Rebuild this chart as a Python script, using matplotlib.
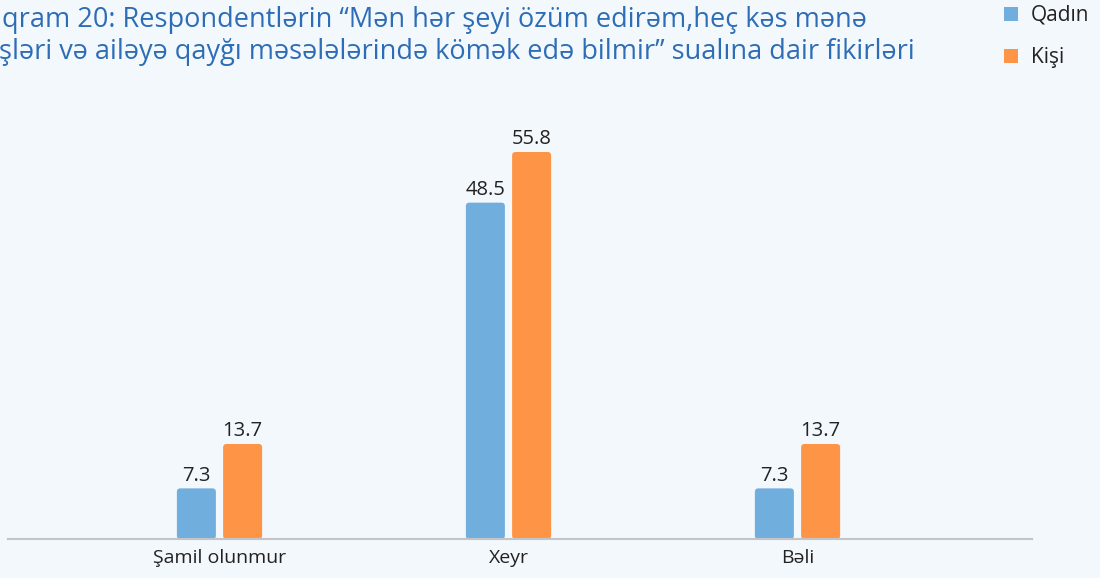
import matplotlib
matplotlib.use("Agg")
import matplotlib.pyplot as plt
from matplotlib.patches import FancyBboxPatch, Patch
import numpy as np

categories = ["Şamil olunmur", "Xeyr", "Bəli"]
qadin = [7.3, 48.5, 7.3]
kisi = [13.7, 55.8, 13.7]
series_names = ["Qadın", "Kişi"]
title_line1 = "qram 20: Respondentlərin “Mən hər şeyi özüm edirəm,heç kəs mənə"
title_line2 = "şləri və ailəyə qayğı məsələlərində kömək edə bilmir” sualına dair fikirləri"

BG = "#f3f8fd"
BLUE = "#70aede"
ORANGE = "#fe9445"
TITLE_C = "#2d6db6"
TEXT_C = "#222222"

plt.rcParams['font.family'] = ['Open Sans', 'DejaVu Sans']

W, H = 1100, 578
fig = plt.figure(figsize=(W / 100, H / 100), dpi=100, facecolor=BG)
ax_left, ax_right, ax_bottom, ax_top = 8, 1032, 539, 100
ax = fig.add_axes([ax_left / W, (H - ax_bottom) / H, (ax_right - ax_left) / W, (ax_bottom - ax_top) / H])
ax.set_facecolor(BG)

x = np.arange(len(categories))
bw = 0.135
off = 0.08
b1 = ax.bar(x - off, qadin, bw, color=BLUE, label=series_names[0])
b2 = ax.bar(x + off, kisi, bw, color=ORANGE, label=series_names[1])

x0 = -(219.5 - ax_left) / 289.0
x1 = (ax_right - 219.5) / 289.0
ax.set_xlim(x0, x1)
ymax = 63.3
ax.set_ylim(0, ymax)

# rounded bars
px_per_x = (ax_right - ax_left) / (x1 - x0)
px_per_y = (ax_bottom - ax_top) / ymax
r = 3.5 / px_per_x
aspect = px_per_x / px_per_y
for cont in (b1, b2):
    for p in cont.patches:
        p.set_visible(False)
        fb = FancyBboxPatch((p.get_x(), p.get_y()), p.get_width(), p.get_height(),
                            boxstyle=f"round,pad=0,rounding_size={r}",
                            mutation_aspect=aspect, facecolor=p.get_facecolor(),
                            edgecolor="none", zorder=2)
        ax.add_patch(fb)

ax.bar_label(b1, labels=[f"{v}" for v in qadin], padding=2, fontsize=14.5, color=TEXT_C)
ax.bar_label(b2, labels=[f"{v}" for v in kisi], padding=2, fontsize=14.5, color=TEXT_C)

for s in ["top", "right", "left"]:
    ax.spines[s].set_visible(False)
ax.spines["bottom"].set_color("#c3c3c8")
ax.spines["bottom"].set_linewidth(1.5)
ax.set_yticks([])
ax.set_xticks(x)
ax.set_xticklabels(categories, fontsize=14, color=TEXT_C)
ax.tick_params(axis="x", length=0, pad=7)

fig.text(2 / W, 1 - 27 / H, title_line1, fontsize=19.5, color=TITLE_C, ha="left", va="baseline")
fig.text(-1 / W, 1 - 59 / H, title_line2, fontsize=19.5, color=TITLE_C, ha="left", va="baseline")

handles = [Patch(facecolor=BLUE, edgecolor="none"), Patch(facecolor=ORANGE, edgecolor="none")]
leg = fig.legend(handles=handles, labels=series_names, loc="upper left",
                 bbox_to_anchor=(1004 / W, 1 - 5 / H), frameon=False,
                 borderpad=0, borderaxespad=0,
                 handlelength=0.68, handleheight=0.66, handletextpad=0.62,
                 labelspacing=1.0, fontsize=15, labelcolor=TEXT_C)

fig.savefig("out.png", dpi=100, facecolor=BG)
